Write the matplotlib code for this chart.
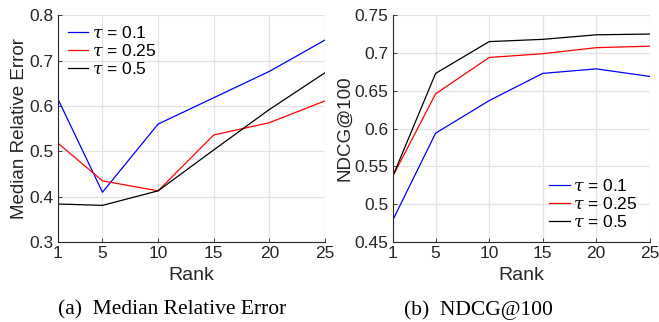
import matplotlib
matplotlib.use("Agg")
import matplotlib.pyplot as plt

# --- data ---
ranks = [1, 5, 10, 15, 20, 25]
taus = ["0.1", "0.25", "0.5"]
colors = ["#0000ff", "#ff0000", "#000000"]

mre_01 = [0.615, 0.410, 0.560, 0.618, 0.676, 0.745]
mre_025 = [0.518, 0.435, 0.413, 0.536, 0.563, 0.611]
mre_05 = [0.384, 0.381, 0.413, 0.503, 0.592, 0.673]

ndcg_01 = [0.479, 0.594, 0.637, 0.673, 0.679, 0.669]
ndcg_025 = [0.537, 0.646, 0.694, 0.699, 0.707, 0.709]
ndcg_05 = [0.537, 0.673, 0.715, 0.718, 0.724, 0.725]

mre_ticks = [0.3, 0.4, 0.5, 0.6, 0.7, 0.8]
ndcg_ticks = [0.45, 0.5, 0.55, 0.6, 0.65, 0.7, 0.75]
ndcg_ticklabels = ["0.45", "0.5", "0.55", "0.6", "0.65", "0.7", "0.75"]

plt.rcParams['font.family'] = ['Liberation Sans', 'DejaVu Sans']
plt.rcParams['mathtext.fontset'] = 'dejavuserif'

fig = plt.figure(figsize=(6.59, 3.22), dpi=100)
ax1 = fig.add_axes([0.088, 0.248, 0.405, 0.705])
ax2 = fig.add_axes([0.596, 0.248, 0.390, 0.705])


def style_axes(ax, ylim, yticks, ylabels=None):
    ax.set_xlim(1, 25)
    ax.set_ylim(*ylim)
    ax.set_xticks(ranks)
    ax.set_yticks(yticks)
    if ylabels is not None:
        ax.set_yticklabels(ylabels)
    ax.grid(True, color="#e3e3e3", linewidth=0.9)
    ax.set_axisbelow(True)
    for s in ["top", "right"]:
        ax.spines[s].set_visible(False)
    for s in ["left", "bottom"]:
        ax.spines[s].set_color("#262626")
        ax.spines[s].set_linewidth(0.8)
    ax.tick_params(direction="in", length=3, width=0.6, labelsize=12.5,
                   colors="#262626", pad=3)
    ax.set_xlabel("Rank", fontsize=14, color="#262626", labelpad=4)


for vals, tau, c in zip([mre_01, mre_025, mre_05], taus, colors):
    ax1.plot(ranks, vals, color=c, linewidth=0.9, label=r"$\tau$ = " + tau)
style_axes(ax1, (0.3, 0.8), mre_ticks)
ax1.set_ylabel("Median Relative Error", fontsize=13.5, color="#262626", labelpad=1)
ax1.legend(loc="upper left", frameon=False, fontsize=12.5, handlelength=1.2,
           borderaxespad=0.15, labelspacing=0.12, handletextpad=0.2)

for vals, tau, c in zip([ndcg_01, ndcg_025, ndcg_05], taus, colors):
    ax2.plot(ranks, vals, color=c, linewidth=0.9, label=r"$\tau$ = " + tau)
style_axes(ax2, (0.45, 0.75), ndcg_ticks, ndcg_ticklabels)
ax2.set_ylabel("NDCG@100", fontsize=13.5, color="#262626", labelpad=1)
ax2.legend(loc="lower right", frameon=False, fontsize=12.5, handlelength=1.2,
           borderaxespad=0.3, labelspacing=0.12, handletextpad=0.2)

fig.text(172 / 659, 0.037, "(a)  Median Relative Error", ha="center", va="center",
         family="Liberation Serif", fontsize=15.5)
fig.text(478 / 659, 0.037, "(b)  NDCG@100", ha="center", va="center",
         family="Liberation Serif", fontsize=15.5)

fig.savefig("out.png", dpi=100)
